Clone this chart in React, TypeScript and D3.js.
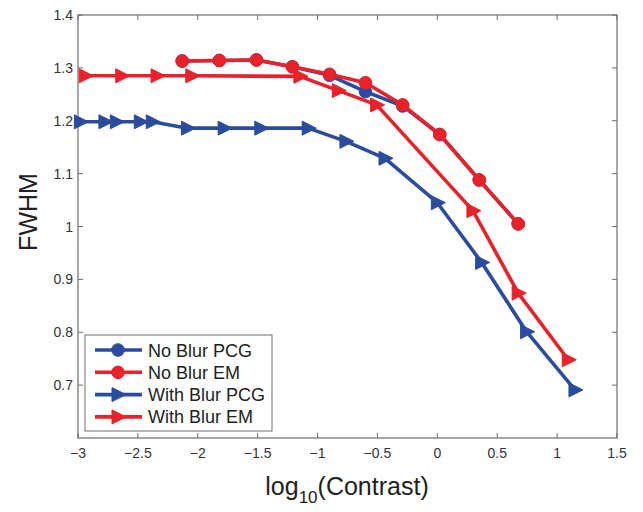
import React from "react";
import * as d3 from "d3";

const xTicks = [-3, -2.5, -2, -1.5, -1, -0.5, 0, 0.5, 1, 1.5];
const yTicks = [0.7, 0.8, 0.9, 1.0, 1.1, 1.2, 1.3, 1.4];

const noBlurPCG_x = [-2.13, -1.82, -1.51, -1.21, -0.9, -0.6, -0.29, 0.02, 0.35, 0.675];
const noBlurPCG_y = [1.313, 1.314, 1.315, 1.302, 1.286, 1.255, 1.228, 1.174, 1.088, 1.005];

const noBlurEM_x = [-2.13, -1.82, -1.51, -1.21, -0.9, -0.6, -0.29, 0.02, 0.35, 0.675];
const noBlurEM_y = [1.313, 1.314, 1.315, 1.302, 1.288, 1.272, 1.23, 1.174, 1.088, 1.005];

const withBlurPCG_x = [-2.98, -2.775, -2.68, -2.48, -2.38, -2.086, -1.78, -1.474, -1.078, -0.763, -0.437, 0.0, 0.37, 0.745, 1.149];
const withBlurPCG_y = [1.198, 1.198, 1.198, 1.198, 1.198, 1.186, 1.186, 1.186, 1.186, 1.161, 1.129, 1.045, 0.932, 0.801, 0.691];

const withBlurEM_x = [-2.94, -2.635, -2.34, -2.05, -1.147, -0.827, -0.507, 0.297, 0.675, 1.093];
const withBlurEM_y = [1.285, 1.285, 1.285, 1.285, 1.284, 1.257, 1.23, 1.03, 0.874, 0.748];

const seriesNames = ["No Blur PCG", "No Blur EM", "With Blur PCG", "With Blur EM"];

const RED = "#E8212B";
const BLUE = "#2B4C9E";
const FONT = "'Liberation Sans', Arial, Helvetica, sans-serif";

const series = [
  { name: seriesNames[0], xs: noBlurPCG_x, ys: noBlurPCG_y, color: BLUE, marker: "circle" },
  { name: seriesNames[1], xs: noBlurEM_x, ys: noBlurEM_y, color: RED, marker: "circle" },
  { name: seriesNames[2], xs: withBlurPCG_x, ys: withBlurPCG_y, color: BLUE, marker: "tri" },
  { name: seriesNames[3], xs: withBlurEM_x, ys: withBlurEM_y, color: RED, marker: "tri" },
];

function Marker({ type, cx, cy, color }: { type: string; cx: number; cy: number; color: string }) {
  if (type === "circle") return <circle cx={cx} cy={cy} r={6.3} fill={color} stroke={color} strokeWidth={1} />;
  const p = `M${cx - 6},${cy - 7} L${cx + 8},${cy} L${cx - 6},${cy + 7} Z`;
  return <path d={p} fill={color} stroke={color} strokeWidth={1} strokeLinejoin="round" />;
}

const fmt = (v: number) => {
  const s = d3.format("")(Math.abs(v));
  return (v < 0 ? "\u2212" : "") + s;
};

export default function App() {
  const L = 78, R = 617, T = 15, B = 438;
  const x = d3.scaleLinear().domain([-3, 1.5]).range([L, R]);
  const y = d3.scaleLinear().domain([0.6, 1.4]).range([B, T]);
  const line = d3.line<[number, number]>().x((d) => x(d[0])).y((d) => y(d[1]));
  const axisColor = "#6e6e6e";
  const tickLen = 5;

  return (
    <svg width={643} height={512} style={{ position: "absolute", left: 0, top: 0, background: "#fff" }} fontFamily={FONT}>
      <rect x={0} y={0} width={643} height={512} fill="#fff" />
      {/* ticks */}
      {xTicks.map((t) => (
        <g key={"xt" + t}>
          <line x1={x(t)} x2={x(t)} y1={B} y2={B - tickLen} stroke={axisColor} strokeWidth={1} />
          <line x1={x(t)} x2={x(t)} y1={T} y2={T + tickLen} stroke={axisColor} strokeWidth={1} />
          <text x={x(t)} y={458} textAnchor="middle" fontSize={14} fill="#333">{fmt(t)}</text>
        </g>
      ))}
      {yTicks.map((t) => (
        <g key={"yt" + t}>
          <line x1={L} x2={L + tickLen} y1={y(t)} y2={y(t)} stroke={axisColor} strokeWidth={1} />
          <line x1={R} x2={R - tickLen} y1={y(t)} y2={y(t)} stroke={axisColor} strokeWidth={1} />
          <text x={73} y={y(t) + 5} textAnchor="end" fontSize={14} fill="#333">{fmt(t)}</text>
        </g>
      ))}
      <rect x={L} y={T} width={R - L} height={B - T} fill="none" stroke={axisColor} strokeWidth={1.2} />
      {/* series */}
      {series.map((s) => {
        const pts = s.xs.map((v, i) => [v, s.ys[i]] as [number, number]);
        return (
          <g key={s.name}>
            <path d={line(pts) || ""} fill="none" stroke={s.color} strokeWidth={3.6} strokeLinejoin="round" />
            {pts.map((p, i) => (
              <Marker key={i} type={s.marker} cx={x(p[0])} cy={y(p[1])} color={s.color} />
            ))}
          </g>
        );
      })}
      {/* legend */}
      <rect x={85} y={335} width={187} height={96} fill="#fff" stroke={axisColor} strokeWidth={1} />
      {series.map((s, i) => {
        const ly = 350 + i * 22.3;
        return (
          <g key={"lg" + i}>
            <line x1={95} x2={142} y1={ly} y2={ly} stroke={s.color} strokeWidth={3.6} />
            <Marker type={s.marker} cx={118} cy={ly} color={s.color} />
            <text x={148} y={ly + 6.5} fontSize={18} fill="#222">{s.name}</text>
          </g>
        );
      })}
      {/* axis titles */}
      <text x={347} y={495} textAnchor="middle" fontSize={25} fill="#222">
        log<tspan fontSize={17} dy={8}>10</tspan><tspan dy={-8}>(Contrast)</tspan>
      </text>
      <text transform={`translate(37,212) rotate(-90)`} textAnchor="middle" fontSize={25} fill="#222">FWHM</text>
    </svg>
  );
}
